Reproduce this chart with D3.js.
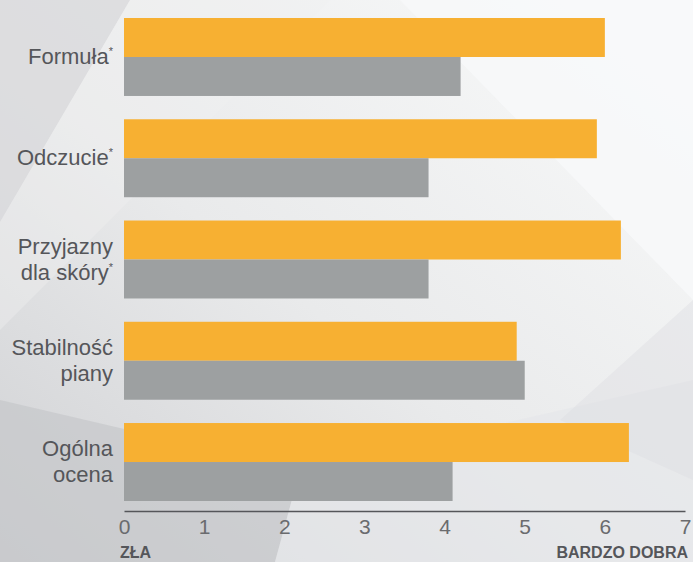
<!DOCTYPE html>
<html><head><meta charset="utf-8">
<script src="https://cdn.jsdelivr.net/npm/d3@7"></script>
<style>html,body{margin:0;padding:0;background:#eeeff0;}svg{display:block;}</style>
</head><body>
<svg id="c" width="693" height="562"></svg>
<script>
const categories = [["Formuła*"], ["Odczucie*"], ["Przyjazny", "dla skóry*"], ["Stabilność", "piany"], ["Ogólna", "ocena"]];
const seriesA = [6.0, 5.9, 6.2, 4.9, 6.3];   // orange
const seriesB = [4.2, 3.8, 3.8, 5.0, 4.1];   // gray
const tickValues = [0, 1, 2, 3, 4, 5, 6, 7];
const axisLeftLabel = "ZŁA";
const axisRightLabel = "BARDZO DOBRA";

const W = 693, H = 562;
const svg = d3.select("#c");

// background
const defs = svg.append("defs");
const g1 = defs.append("linearGradient").attr("id","bg").attr("x1","0").attr("y1","1").attr("x2","1").attr("y2","0");
g1.append("stop").attr("offset","0").attr("stop-color","#cfd0d3");
g1.append("stop").attr("offset","0.45").attr("stop-color","#e9eaeb");
g1.append("stop").attr("offset","1").attr("stop-color","#fafbfb");
svg.append("rect").attr("width",W).attr("height",H).attr("fill","url(#bg)");
const polys = [
  {p:[[0,0],[130,0],[0,222]], f:"#d9dadc", o:0.8},
  {p:[[130,0],[330,0],[0,330],[0,222]], f:"#efeff0", o:0.4},
  {p:[[0,400],[300,470],[275,562],[0,562]], f:"#c6c7ca", o:0.7},
  {p:[[300,470],[693,380],[693,562],[275,562]], f:"#e6e7e9", o:0.7},
  {p:[[400,0],[693,0],[693,300]], f:"#f8f9fa", o:0.8},
  {p:[[560,420],[693,300],[693,480]], f:"#dcdde0", o:0.4}
];
svg.append("g").selectAll("polygon").data(polys).join("polygon")
  .attr("points", d => d.p.map(q=>q.join(",")).join(" "))
  .attr("fill", d=>d.f).attr("opacity", d=>d.o);

const x = d3.scaleLinear().domain([0,7]).range([124,685]);
const y = d3.scaleBand().domain(d3.range(categories.length)).range([18,501]).paddingInner(0.23).paddingOuter(0);
const bh = y.bandwidth()/2;

const bars = svg.append("g");
bars.selectAll("rect.a").data(seriesA).join("rect").attr("class","a")
  .attr("x", x(0)).attr("y",(d,i)=>y(i)).attr("width", d=>x(d)-x(0)).attr("height", bh)
  .attr("fill","#f7b032");
bars.selectAll("rect.b").data(seriesB).join("rect").attr("class","b")
  .attr("x", x(0)).attr("y",(d,i)=>y(i)+bh).attr("width", d=>x(d)-x(0)).attr("height", bh)
  .attr("fill","#9da0a1");

// category labels
const lab = svg.append("g").attr("font-family","'Liberation Sans', Arial, sans-serif").attr("font-size",22).attr("fill","#55565a");
categories.forEach((lines,i)=>{
  const c = y(i) + y.bandwidth()/2;
  const lh = 26;
  const first = c + 7 - (lines.length-1)*lh/2;
  lines.forEach((t,j)=>{
    const star = t.endsWith("*");
    const txt = lab.append("text").attr("x",113).attr("y",first + j*lh).attr("text-anchor","end");
    txt.append("tspan").text(star ? t.slice(0,-1) : t);
    if (star) txt.append("tspan").attr("font-size",11).attr("dy",-9).text("*");
  });
});

// axis
const axis = d3.axisBottom(x).tickValues(tickValues).tickSize(0).tickPadding(0).tickFormat(d3.format("d"));
const ax = svg.append("g").attr("transform","translate(0,511)").call(axis);
ax.select(".domain").attr("stroke","#55565a").attr("stroke-width",1.5);
ax.selectAll("text").attr("font-family","'Liberation Sans', Arial, sans-serif").attr("font-size",21)
  .attr("fill","#6a6b6e").attr("dy",null).attr("y",23);

svg.append("text").attr("x",120).attr("y",558).attr("font-family","'Liberation Sans', Arial, sans-serif")
  .attr("font-weight","bold").attr("font-size",16).attr("fill","#55565a").text(axisLeftLabel);
svg.append("text").attr("x",688).attr("y",558).attr("text-anchor","end").attr("font-family","'Liberation Sans', Arial, sans-serif")
  .attr("font-weight","bold").attr("font-size",16).attr("fill","#55565a").text(axisRightLabel);
</script>
</body></html>
